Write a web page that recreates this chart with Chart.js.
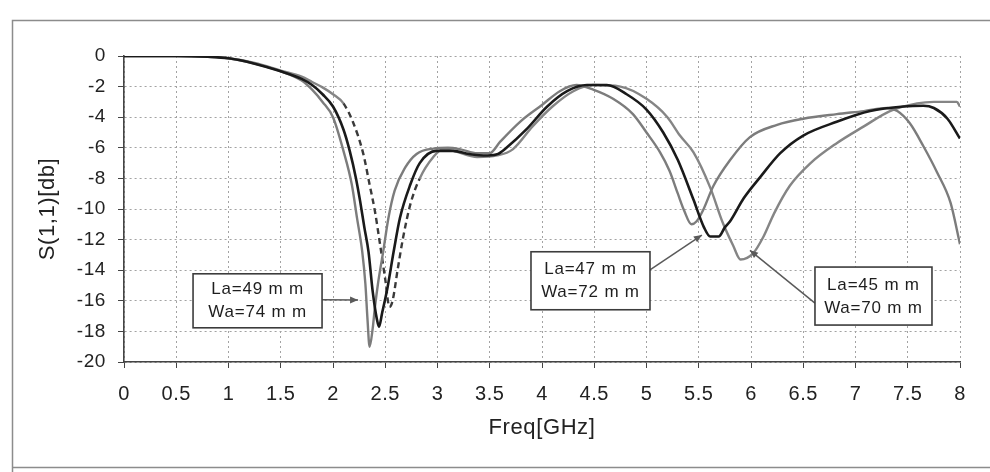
<!DOCTYPE html>
<html>
<head>
<meta charset="utf-8">
<script src="https://cdn.jsdelivr.net/npm/chart.js@4.4.1/dist/chart.umd.min.js"></script>
<style>
  html, body { margin: 0; padding: 0; background: #fff; }
  #wrap { width: 990px; height: 472px; }
</style>
</head>
<body>
<div id="wrap"><canvas id="chart" width="990" height="472"></canvas></div>
<script>
// ============ Data ============
const freq49 = [0, 0.5, 0.8, 1.0, 1.25, 1.5, 1.7, 1.8, 1.9, 2.0, 2.1, 2.18, 2.23, 2.28, 2.31, 2.33, 2.35, 2.38, 2.40, 2.43, 2.48, 2.53, 2.59, 2.69, 2.80, 2.96, 3.1, 3.22, 3.38, 3.5, 3.6, 3.79, 4.0, 4.17, 4.33, 4.49, 4.68, 4.87, 5.0, 5.13, 5.22, 5.3, 5.36, 5.43, 5.48, 5.54, 5.64, 5.8, 5.99, 6.25, 6.5, 6.82, 7.08, 7.3, 7.4, 7.52, 7.65, 7.78, 7.91, 8.0];
const s49    = [0, 0, -0.05, -0.15, -0.5, -1.0, -1.6, -2.2, -3.0, -4.0, -6.2, -8.4, -10.6, -12.8, -14.9, -17.2, -19.0, -17.8, -16.5, -14.9, -12.8, -10.6, -8.8, -7.3, -6.4, -6.05, -6.0, -6.1, -6.35, -6.35, -5.6, -4.3, -3.2, -2.3, -1.9, -2.2, -2.8, -3.8, -5.0, -6.3, -7.5, -9.0, -10.1, -11.0, -10.8, -10.1, -8.5, -6.8, -5.3, -4.5, -4.1, -3.8, -3.6, -3.4, -3.6, -4.4, -5.9, -7.6, -9.6, -12.3];

const freq47 = [0, 0.5, 0.8, 1.0, 1.25, 1.5, 1.7, 1.8, 1.9, 2.0, 2.1, 2.16, 2.22, 2.26, 2.30, 2.34, 2.38, 2.42, 2.44, 2.47, 2.52, 2.58, 2.64, 2.74, 2.83, 2.99, 3.15, 3.3, 3.48, 3.58, 3.66, 3.85, 4.05, 4.24, 4.43, 4.62, 4.81, 5.0, 5.16, 5.3, 5.45, 5.55, 5.61, 5.69, 5.75, 5.8, 5.93, 6.09, 6.28, 6.5, 6.82, 7.14, 7.46, 7.65, 7.75, 7.88, 8.0];
const s47    = [0, 0, -0.05, -0.15, -0.5, -1.0, -1.5, -1.9, -2.5, -3.3, -4.8, -6.2, -8.0, -9.5, -11.2, -12.8, -15.4, -17.2, -17.7, -16.8, -15.2, -12.8, -10.6, -8.4, -7.0, -6.2, -6.2, -6.4, -6.5, -6.4, -6.0, -4.8, -3.3, -2.3, -1.9, -1.9, -2.5, -3.5, -5.0, -6.8, -9.4, -11.2, -11.8, -11.8, -11.2, -10.8, -9.3, -7.9, -6.35, -5.2, -4.3, -3.6, -3.3, -3.25, -3.4, -4.1, -5.4];

const freq45 = [0, 0.5, 0.8, 1.0, 1.25, 1.5, 1.7, 1.8, 1.9, 2.0, 2.1, 2.19, 2.29, 2.35, 2.40, 2.45, 2.5, 2.54, 2.57, 2.62, 2.67, 2.74, 2.83, 2.96, 3.05, 3.15, 3.38, 3.57, 3.72, 3.91, 4.1, 4.3, 4.49, 4.75, 5.0, 5.2, 5.32, 5.45, 5.61, 5.73, 5.83, 5.9, 6.02, 6.12, 6.22, 6.37, 6.57, 6.82, 7.08, 7.33, 7.59, 7.75, 7.97, 8.0];
const s45    = [0, 0, -0.05, -0.15, -0.45, -0.95, -1.35, -1.7, -2.05, -2.5, -3.1, -4.3, -6.4, -8.4, -10.1, -12.3, -14.6, -16.4, -16.0, -13.9, -11.9, -9.7, -8.0, -6.6, -6.1, -6.2, -6.6, -6.5, -6.1, -4.6, -3.3, -2.3, -1.9, -2.0, -2.8, -4.0, -5.2, -6.3, -8.6, -10.9, -12.4, -13.3, -12.9, -11.8, -10.3, -8.5, -7.0, -5.7, -4.6, -3.6, -3.1, -3.0, -3.0, -3.3];

// dashed stretch of the La=45 trace around the first dip
const dashedRange45 = [2.1, 2.84];

const callouts = [
    { lines: ['La=49 m m', 'Wa=74 m m'], at: [1.278, -16.0], w: 129, h: 54, from: 'right', dy: -1, to: [2.24, -15.95] },
    { lines: ['La=47 m m', 'Wa=72 m m'], at: [4.464, -14.69], w: 119, h: 58, from: 'right', dy: -11, to: [5.53, -11.7] },
    { lines: ['La=45 m m', 'Wa=70 m m'], at: [7.172, -15.69], w: 117, h: 58, from: 'left', dy: 7, to: [5.99, -12.7] }
];

const FONT = 'Liberation Sans, Arial, sans-serif';

const toPoints = (xs, ys) => xs.map((x, i) => ({ x, y: ys[i] }));

// ============ Plugins ============
const framePlugin = {
    id: 'frame',
    beforeDraw(chart) {
        const ctx = chart.ctx;
        ctx.save();
        ctx.strokeStyle = '#8c8c8c';
        ctx.lineWidth = 1.5;
        ctx.beginPath();
        ctx.moveTo(990, 20.5);
        ctx.lineTo(12.5, 20.5);
        ctx.lineTo(12.5, 472);
        ctx.moveTo(12.5, 467.5);
        ctx.lineTo(990, 467.5);
        ctx.stroke();
        ctx.restore();
        // scanned text looks slightly spaced out
        chart.ctx.letterSpacing = '0.6px';
    }
};

function arrowHead(ctx, x0, y0, x1, y1) {
    const a = Math.atan2(y1 - y0, x1 - x0);
    const len = 8, half = 3.5;
    ctx.beginPath();
    ctx.moveTo(x1, y1);
    ctx.lineTo(x1 - len * Math.cos(a) + half * Math.sin(a), y1 - len * Math.sin(a) - half * Math.cos(a));
    ctx.lineTo(x1 - len * Math.cos(a) - half * Math.sin(a), y1 - len * Math.sin(a) + half * Math.cos(a));
    ctx.closePath();
    ctx.fill();
}

const calloutPlugin = {
    id: 'callouts',
    afterDatasetsDraw(chart) {
        const { ctx, scales: { x, y } } = chart;
        ctx.save();
        callouts.forEach(c => {
            const cx = x.getPixelForValue(c.at[0]);
            const cy = y.getPixelForValue(c.at[1]);
            const left = cx - c.w / 2, top = cy - c.h / 2;

            // arrow
            const sx = c.from === 'right' ? left + c.w : left;
            const sy = cy + c.dy;
            const ex = x.getPixelForValue(c.to[0]);
            const ey = y.getPixelForValue(c.to[1]);
            ctx.strokeStyle = '#5a5a5a';
            ctx.fillStyle = '#5a5a5a';
            ctx.lineWidth = 1.5;
            ctx.beginPath();
            ctx.moveTo(sx, sy);
            ctx.lineTo(ex, ey);
            ctx.stroke();
            arrowHead(ctx, sx, sy, ex, ey);

            // box
            ctx.fillStyle = '#fff';
            ctx.fillRect(left, top, c.w, c.h);
            ctx.strokeStyle = '#3c3c3c';
            ctx.lineWidth = 1.6;
            ctx.strokeRect(left, top, c.w, c.h);

            // text
            ctx.fillStyle = '#1e1e1e';
            ctx.font = '17px ' + FONT;
            ctx.letterSpacing = '0.8px';
            ctx.textAlign = 'center';
            ctx.textBaseline = 'middle';
            ctx.fillText(c.lines[0], cx, cy - 11);
            ctx.fillText(c.lines[1], cx, cy + 12);
        });
        ctx.restore();
    }
};

// ============ Chart ============
const inDashed = seg => seg.p0.parsed.x >= dashedRange45[0] && seg.p1.parsed.x <= dashedRange45[1];

const gridOpts = {
    color: '#a3a3a3',
    lineWidth: 1,
    tickLength: 6,
    tickColor: '#444',
    tickBorderDash: []
};

const ctx = document.getElementById('chart').getContext('2d');
new Chart(ctx, {
    type: 'line',
    data: {
        datasets: [
            {
                label: 'La=47 mm',
                data: toPoints(freq47, s47),
                borderColor: '#1a1a1a',
                borderWidth: 2.6,
                order: 0
            },
            {
                label: 'La=49 mm',
                data: toPoints(freq49, s49),
                borderColor: '#7c7c7c',
                borderWidth: 2.4,
                order: 1
            },
            {
                label: 'La=45 mm',
                data: toPoints(freq45, s45),
                borderColor: '#858585',
                borderWidth: 2.4,
                order: 2,
                segment: {
                    borderDash: seg => inDashed(seg) ? [6, 4] : undefined,
                    borderColor: seg => inDashed(seg) ? '#3a3a3a' : undefined
                }
            }
        ]
    },
    options: {
        responsive: false,
        devicePixelRatio: 1,
        animation: false,
        parsing: false,
        layout: { padding: { left: 0, right: 30, top: 56, bottom: 10 } },
        elements: {
            point: { radius: 0 },
            line: { cubicInterpolationMode: 'monotone', fill: false }
        },
        plugins: {
            legend: { display: false },
            tooltip: { enabled: false }
        },
        scales: {
            x: {
                type: 'linear',
                min: 0,
                max: 8,
                afterFit: s => { s.height = 100; },
                ticks: {
                    stepSize: 0.5,
                    padding: 14,
                    color: '#222',
                    font: { family: FONT, size: 20 },
                    maxRotation: 0,
                    callback: v => String(+v.toFixed(1))
                },
                grid: gridOpts,
                border: { display: true, color: '#444', width: 1.6, dash: [2, 3] },
                title: {
                    display: true,
                    text: 'Freq[GHz]',
                    color: '#222',
                    font: { family: FONT, size: 22 },
                    padding: { top: 0, bottom: 21 }
                }
            },
            y: {
                type: 'linear',
                min: -20,
                max: 0,
                afterFit: s => { s.width = 124; },
                ticks: {
                    stepSize: 2,
                    padding: 12,
                    color: '#222',
                    font: { family: FONT, size: 19 }
                },
                grid: gridOpts,
                border: { display: true, color: '#444', width: 1.6, dash: [2, 3] },
                title: {
                    display: true,
                    text: 'S(1,1)[db]',
                    color: '#222',
                    font: { family: FONT, size: 22 },
                    padding: { top: 35, bottom: 0 }
                }
            }
        }
    },
    plugins: [framePlugin, calloutPlugin]
});
</script>
</body>
</html>
